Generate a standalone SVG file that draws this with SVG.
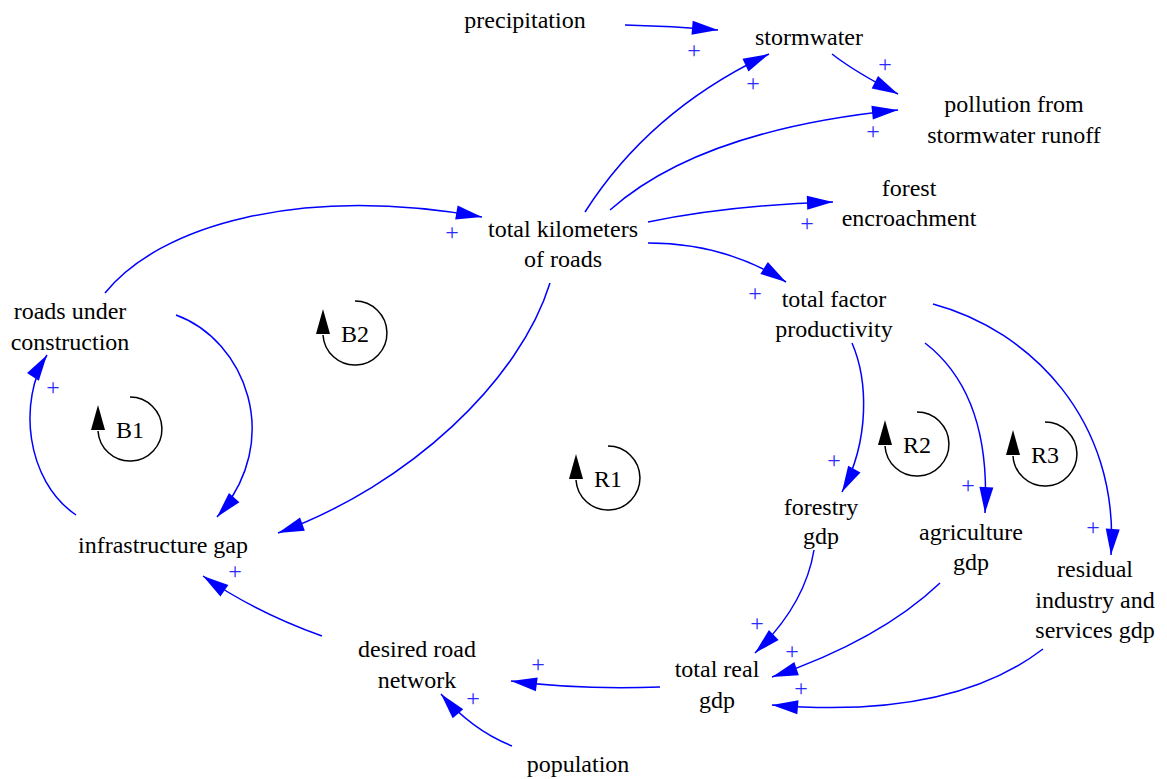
<svg xmlns="http://www.w3.org/2000/svg" xmlns:xlink="http://www.w3.org/1999/xlink" width="1167" height="779" viewBox="0 0 1167 779">
<style>
.lbl{font-family:"Liberation Serif","Times New Roman","DejaVu Serif",serif;font-size:24px;fill:#000;text-anchor:middle}
.lnk{fill:none;stroke:#0000ff;stroke-width:1.5;marker-end:url(#ah)}
.pol{font-family:"Liberation Serif","Times New Roman","DejaVu Serif",serif;font-size:24px;fill:#2a2aff;text-anchor:middle}
</style>
<defs>
<marker id="ah" markerUnits="userSpaceOnUse" markerWidth="27" markerHeight="15" refX="26" refY="7" orient="auto" overflow="visible">
<path d="M0,0 L26,7 L0,14 Z" fill="#0000ff"/>
</marker>
<g id="loopmark">
<path d="M0,-32 A32,32 0 1 1 -32,2" fill="none" stroke="#000" stroke-width="1.5"/>
<path d="M-32,-24 L-39,1 L-25,1 Z" fill="#000"/>
</g>
</defs>
<rect width="1167" height="779" fill="#fff"/>
<g id="connectors">
<path class="lnk" d="M625,25 Q672,26 718,30"/>
<path class="lnk" d="M585,212 Q650,110 769,54"/>
<path class="lnk" d="M610,210 Q700,130 898,110"/>
<path class="lnk" d="M832,54 Q855,72 898,94"/>
<path class="lnk" d="M648,222 Q730,205 833,202"/>
<path class="lnk" d="M648,243 Q725,243 786,282"/>
<path class="lnk" d="M105,293 C160,225 300,185 482,217"/>
<path class="lnk" d="M176,315 C245,340 285,440 217,517"/>
<path class="lnk" d="M76,515 C25,480 18,400 47,355"/>
<path class="lnk" d="M550,283 C520,380 410,485 278,533"/>
<path class="lnk" d="M322,636 Q255,612 203,576"/>
<path class="lnk" d="M660,687 Q580,690 511,681"/>
<path class="lnk" d="M512,746 Q472,730 441,694"/>
<path class="lnk" d="M852,343 C868,380 870,440 842,492"/>
<path class="lnk" d="M925,343 C960,370 990,420 985,513"/>
<path class="lnk" d="M933,304 C1030,330 1120,420 1111,555"/>
<path class="lnk" d="M814,550 Q805,605 755,653"/>
<path class="lnk" d="M940,583 Q880,640 772,677"/>
<path class="lnk" d="M1043,649 Q950,720 772,705"/>
<g id="polarities">
<text class="pol" x="694" y="58">+</text>
<text class="pol" x="753" y="91">+</text>
<text class="pol" x="885" y="72">+</text>
<text class="pol" x="873" y="139">+</text>
<text class="pol" x="807" y="231">+</text>
<text class="pol" x="755" y="301">+</text>
<text class="pol" x="452" y="240">+</text>
<text class="pol" x="53" y="395">+</text>
<text class="pol" x="235" y="579">+</text>
<text class="pol" x="538" y="672">+</text>
<text class="pol" x="473" y="706">+</text>
<text class="pol" x="834" y="468">+</text>
<text class="pol" x="968" y="493">+</text>
<text class="pol" x="1093" y="535">+</text>
<text class="pol" x="757" y="631">+</text>
<text class="pol" x="792" y="659">+</text>
<text class="pol" x="801" y="696">+</text>
</g>
</g>
<g id="node-precipitation"><text class="lbl" x="525" y="28">precipitation</text></g>
<g id="node-stormwater"><text class="lbl" x="809" y="45">stormwater</text></g>
<g id="node-pollution"><text class="lbl" x="1014" y="112">pollution from</text><text class="lbl" x="1014" y="143">stormwater runoff</text></g>
<g id="node-forest-encroachment"><text class="lbl" x="909" y="196">forest</text><text class="lbl" x="909" y="226">encroachment</text></g>
<g id="node-total-km-roads"><text class="lbl" x="563" y="237">total kilometers</text><text class="lbl" x="563" y="267">of roads</text></g>
<g id="node-tfp"><text class="lbl" x="834" y="307">total factor</text><text class="lbl" x="834" y="337">productivity</text></g>
<g id="node-roads-under-construction"><text class="lbl" x="70" y="319">roads under</text><text class="lbl" x="70" y="350">construction</text></g>
<g id="node-infrastructure-gap"><text class="lbl" x="163" y="553">infrastructure gap</text></g>
<g id="node-desired-road-network"><text class="lbl" x="417" y="657">desired road</text><text class="lbl" x="417" y="688">network</text></g>
<g id="node-population"><text class="lbl" x="578" y="772">population</text></g>
<g id="node-total-real-gdp"><text class="lbl" x="717" y="677">total real</text><text class="lbl" x="717" y="708">gdp</text></g>
<g id="node-forestry-gdp"><text class="lbl" x="821" y="515">forestry</text><text class="lbl" x="821" y="544">gdp</text></g>
<g id="node-agriculture-gdp"><text class="lbl" x="971" y="540">agriculture</text><text class="lbl" x="971" y="570">gdp</text></g>
<g id="node-residual-gdp"><text class="lbl" x="1095" y="577">residual</text><text class="lbl" x="1095" y="608">industry and</text><text class="lbl" x="1095" y="638">services gdp</text></g>
<g id="loop-B1"><use xlink:href="#loopmark" x="130" y="429"/><text class="lbl" x="130" y="438">B1</text></g>
<g id="loop-B2"><use xlink:href="#loopmark" x="355" y="333"/><text class="lbl" x="355" y="342">B2</text></g>
<g id="loop-R1"><use xlink:href="#loopmark" x="608" y="478"/><text class="lbl" x="608" y="487">R1</text></g>
<g id="loop-R2"><use xlink:href="#loopmark" x="917" y="444"/><text class="lbl" x="917" y="453">R2</text></g>
<g id="loop-R3"><use xlink:href="#loopmark" x="1045" y="454"/><text class="lbl" x="1045" y="463">R3</text></g>
</svg>
